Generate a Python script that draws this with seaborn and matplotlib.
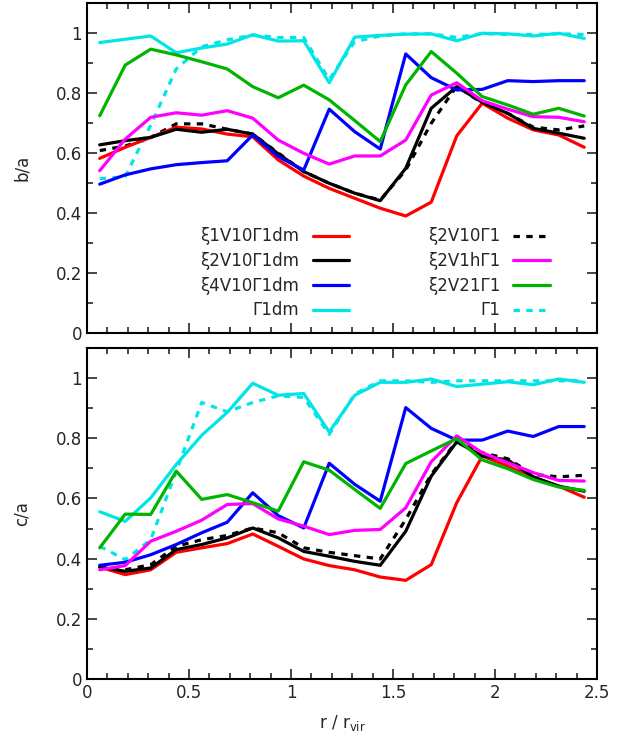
import numpy as np
import matplotlib
matplotlib.use("Agg")
import matplotlib.pyplot as plt
import seaborn as sns
from matplotlib.ticker import MultipleLocator, FormatStrFormatter

# radial bins (r / r_vir)
r = [0.0625, 0.1875, 0.3125, 0.4375, 0.5625, 0.6875, 0.8125, 0.9375, 1.0625, 1.1875,
     1.3125, 1.4375, 1.5625, 1.6875, 1.8125, 1.9375, 2.0625, 2.1875, 2.3125, 2.4375]

labels = ["ξ1V10Γ1dm", "ξ2V10Γ1dm", "ξ4V10Γ1dm", "Γ1dm",
          "ξ2V10Γ1", "ξ2V1hΓ1", "ξ2V21Γ1", "Γ1"]

# b/a
ba_xi1v10g1dm = [0.582, 0.619, 0.652, 0.686, 0.680, 0.663, 0.654, 0.577, 0.523, 0.482,
                 0.449, 0.416, 0.390, 0.436, 0.657, 0.766, 0.716, 0.677, 0.660, 0.619]
ba_xi2v10g1dm = [0.627, 0.641, 0.652, 0.679, 0.669, 0.679, 0.663, 0.597, 0.538, 0.499,
                 0.466, 0.441, 0.549, 0.749, 0.821, 0.769, 0.732, 0.682, 0.666, 0.649]
ba_xi4v10g1dm = [0.496, 0.527, 0.547, 0.561, 0.568, 0.574, 0.660, 0.588, 0.543, 0.746,
                 0.671, 0.613, 0.930, 0.851, 0.810, 0.812, 0.841, 0.838, 0.841, 0.841]
ba_g1dm = [0.968, 0.979, 0.990, 0.934, 0.950, 0.963, 0.994, 0.973, 0.974, 0.834,
           0.986, 0.992, 0.996, 0.997, 0.974, 0.999, 0.997, 0.990, 0.999, 0.982]
ba_xi2v10g1 = [0.608, 0.623, 0.652, 0.697, 0.697, 0.679, 0.663, 0.600, 0.538, 0.499,
               0.466, 0.443, 0.543, 0.699, 0.823, 0.766, 0.732, 0.686, 0.677, 0.690]
ba_xi2v1hg1 = [0.541, 0.646, 0.719, 0.734, 0.726, 0.741, 0.716, 0.643, 0.599, 0.563,
               0.590, 0.590, 0.643, 0.793, 0.834, 0.774, 0.746, 0.721, 0.719, 0.704]
ba_xi2v21g1 = [0.724, 0.893, 0.946, 0.927, 0.904, 0.880, 0.821, 0.784, 0.826, 0.777,
               0.708, 0.638, 0.827, 0.938, 0.866, 0.788, 0.760, 0.729, 0.749, 0.723]
ba_g1 = [0.514, 0.521, 0.693, 0.880, 0.954, 0.977, 0.993, 0.985, 0.985, 0.845,
         0.971, 0.990, 0.997, 0.997, 0.985, 0.998, 0.995, 0.995, 0.997, 0.995]

# c/a
ca_xi1v10g1dm = [0.372, 0.347, 0.363, 0.421, 0.436, 0.450, 0.482, 0.441, 0.399, 0.377,
                 0.363, 0.339, 0.328, 0.380, 0.586, 0.741, 0.708, 0.669, 0.641, 0.604]
ca_xi2v10g1dm = [0.372, 0.358, 0.369, 0.430, 0.447, 0.469, 0.502, 0.469, 0.424, 0.408,
                 0.391, 0.378, 0.491, 0.674, 0.788, 0.741, 0.728, 0.672, 0.641, 0.624]
ca_xi4v10g1dm = [0.378, 0.388, 0.413, 0.447, 0.486, 0.521, 0.619, 0.543, 0.502, 0.717,
                 0.647, 0.591, 0.902, 0.833, 0.794, 0.794, 0.824, 0.806, 0.839, 0.839]
ca_g1dm = [0.556, 0.524, 0.602, 0.713, 0.810, 0.886, 0.983, 0.943, 0.949, 0.821,
           0.943, 0.986, 0.986, 0.997, 0.972, 0.980, 0.988, 0.978, 0.997, 0.986]
ca_xi2v10g1 = [0.374, 0.363, 0.380, 0.441, 0.463, 0.477, 0.502, 0.486, 0.436, 0.421,
               0.410, 0.399, 0.530, 0.680, 0.791, 0.752, 0.732, 0.680, 0.672, 0.677]
ca_xi2v1hg1 = [0.363, 0.377, 0.458, 0.491, 0.528, 0.580, 0.583, 0.532, 0.508, 0.480,
               0.494, 0.497, 0.569, 0.722, 0.808, 0.752, 0.719, 0.686, 0.660, 0.658]
ca_xi2v21g1 = [0.436, 0.548, 0.547, 0.691, 0.597, 0.613, 0.586, 0.558, 0.722, 0.694,
               0.630, 0.567, 0.716, 0.758, 0.799, 0.728, 0.699, 0.663, 0.638, 0.627]
ca_g1 = [0.441, 0.397, 0.463, 0.690, 0.919, 0.888, 0.919, 0.941, 0.936, 0.813,
         0.947, 0.991, 0.991, 0.986, 0.991, 0.991, 0.991, 0.991, 0.991, 0.991]

ba_series = [ba_xi1v10g1dm, ba_xi2v10g1dm, ba_xi4v10g1dm, ba_g1dm,
             ba_xi2v10g1, ba_xi2v1hg1, ba_xi2v21g1, ba_g1]
ca_series = [ca_xi1v10g1dm, ca_xi2v10g1dm, ca_xi4v10g1dm, ca_g1dm,
             ca_xi2v10g1, ca_xi2v1hg1, ca_xi2v21g1, ca_g1]

colors = ["#ff0000", "#000000", "#0000ff", "#00e5e5",
          "#000000", "#ff00ff", "#00b400", "#00e5e5"]
dotted = (0, (2, 2))
styles = ["-", "-", "-", "-", dotted, "-", "-", dotted]

sns.set_style("white")
plt.rcParams["font.family"] = ["DejaVu Sans"]
plt.rcParams["font.size"] = 12

fig = plt.figure(figsize=(6.33, 7.40), dpi=100)
ax1 = fig.add_axes([0.1374, 0.550, 0.8057, 0.446])
ax2 = fig.add_axes([0.1374, 0.0824, 0.8057, 0.4473])

# draw dotted ones first so solid lines sit on top
order = [4, 7, 0, 1, 2, 3, 5, 6]
for ax, series in [(ax1, ba_series), (ax2, ca_series)]:
    for k in order:
        sns.lineplot(x=r, y=series[k], ax=ax, color=colors[k], linestyle=styles[k],
                     linewidth=2.3, label=labels[k], legend=False)

for ax in (ax1, ax2):
    ax.set_xlim(0, 2.5)
    ax.set_ylim(0, 1.1)
    ax.xaxis.set_major_locator(MultipleLocator(0.5))
    ax.xaxis.set_minor_locator(MultipleLocator(0.1))
    ax.yaxis.set_major_locator(MultipleLocator(0.2))
    ax.yaxis.set_minor_locator(MultipleLocator(0.1))
    ax.yaxis.set_major_formatter(FormatStrFormatter("%g"))
    ax.xaxis.set_major_formatter(FormatStrFormatter("%g"))
    ax.tick_params(which="both", direction="in", top=True, right=True,
                   left=True, bottom=True, labelsize=12, width=1.2)
    ax.tick_params(which="major", length=7)
    ax.tick_params(which="minor", length=4)
    for s in ax.spines.values():
        s.set_linewidth(1.5)
        s.set_color("black")

ax1.tick_params(labelbottom=False)
ax1.set_ylabel("b/a", fontsize=12, labelpad=18)
ax2.set_ylabel("c/a", fontsize=12, labelpad=18)
ax2.set_xlabel(r"r / r$_{\rm vir}$", fontsize=12, labelpad=8)

handles = []
for k in range(8):
    h, = ax1.plot([], [], color=colors[k], linestyle=styles[k], linewidth=2.3)
    handles.append(h)
ax1.legend(handles, labels, ncol=2, loc="lower right", bbox_to_anchor=(0.908, 0.041),
           frameon=False, markerfirst=False, fontsize=12, handlelength=2.2,
           handletextpad=0.8, labelspacing=0.4, columnspacing=4.7,
           borderpad=0, borderaxespad=0)

fig.savefig("out.png", dpi=100)
